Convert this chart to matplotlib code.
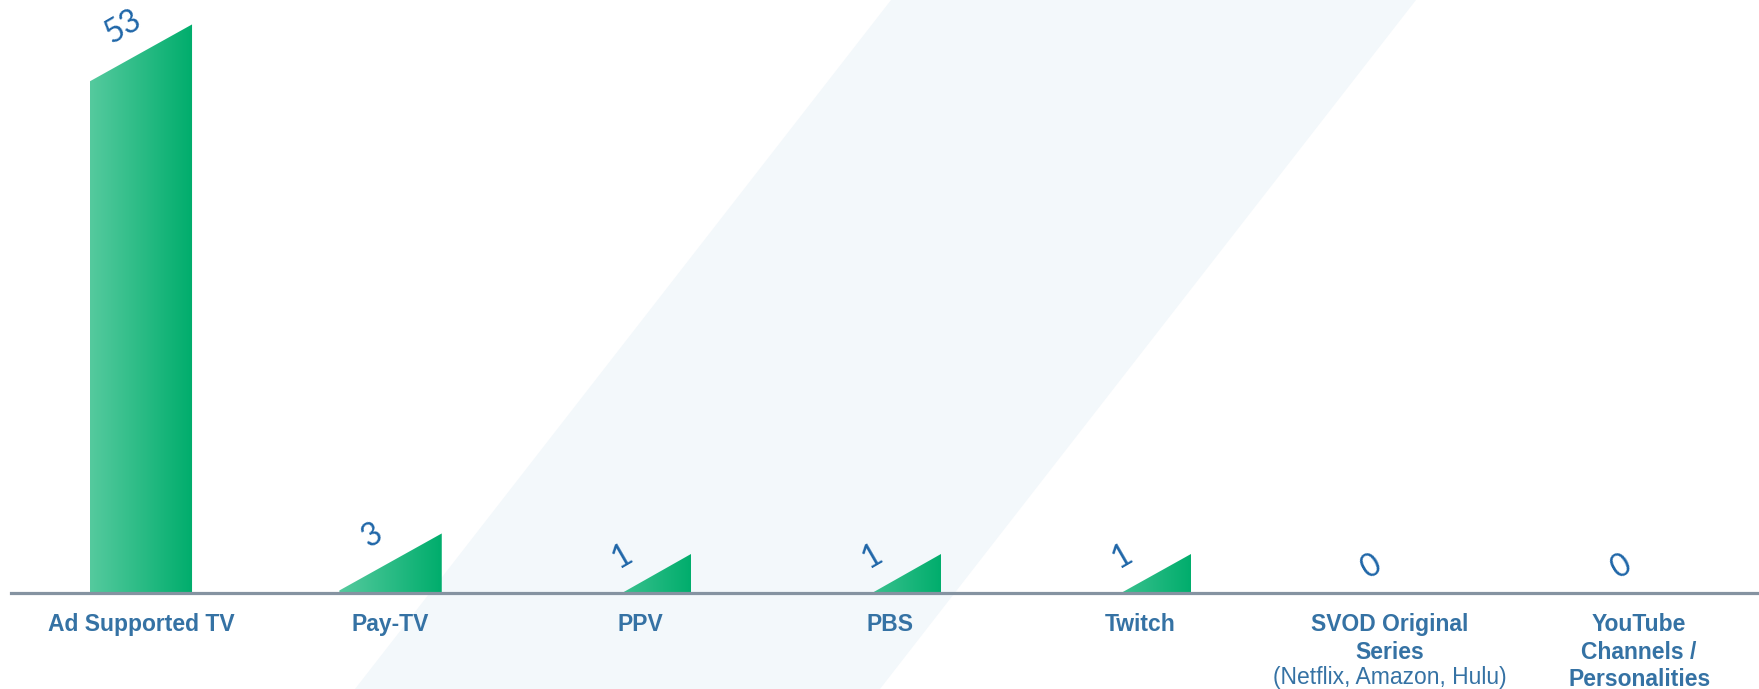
import matplotlib.pyplot as plt
import numpy as np
from matplotlib.patches import Polygon
from matplotlib.colors import LinearSegmentedColormap

# categories and counts
categories = ['Ad Supported TV', 'Pay-TV', 'PPV', 'PBS', 'Twitch',
              'SVOD Original\nSeries', 'YouTube\nChannels /\nPersonalities']
counts = [53, 3, 1, 1, 1, 0, 0]
sub_notes = ['', '', '', '', '', '(Netflix, Amazon, Hulu)', '']

label_color = '#3572a4'
value_color = '#1f66a8'
green = LinearSegmentedColormap.from_list('g', ['#55ca9e', '#00ad6c'])

W, H = 1759, 689
fig = plt.figure(figsize=(W / 100, H / 100), dpi=100)

# light diagonal band in the background
band = Polygon([(891 / W, 1), (1416 / W, 1), (880 / W, 0), (355 / W, 0)],
               closed=True, transform=fig.transFigure, facecolor='#f3f8fb',
               edgecolor='none', zorder=-1)
fig.patches.append(band)

ax = fig.add_axes([11 / W, 96.5 / H, 1 - 11 / W, 592.5 / H])
ax.patch.set_alpha(0)

x = np.arange(len(categories))
bar_w = 0.41
slant = 2.8  # half of the rise of the slanted top, in data units

grad = np.linspace(0, 1, 256).reshape(1, -1)
for xi, v in zip(x, counts):
    if v <= 0:
        continue
    x0, x1 = xi - bar_w / 2, xi + bar_w / 2
    top_r, top_l = v + slant, v - slant
    if top_l >= 0:
        verts = [(x0, 0), (x1, 0), (x1, top_r), (x0, top_l)]
    else:
        xc = x0 + bar_w * (slant - v) / (2 * slant)
        verts = [(xc, 0), (x1, 0), (x1, top_r)]
    poly = Polygon(verts, closed=True, facecolor='none', edgecolor='none')
    ax.add_patch(poly)
    im = ax.imshow(grad, cmap=green, aspect='auto', extent=[x0, x1, 0, top_r],
                   zorder=2)
    im.set_clip_path(poly)

for xi, v in zip(x, counts):
    ax.annotate(str(v), (xi, v), xytext=(-18, 26), textcoords='offset pixels',
                ha='center', va='center', rotation=30, fontsize=23,
                family='Lato', color=value_color)

ax.set_xlim(-0.52, 6.48)
ax.set_ylim(0, 58.2)

for s in ['top', 'left', 'right']:
    ax.spines[s].set_visible(False)
ax.spines['bottom'].set_color('#8593a1')
ax.spines['bottom'].set_linewidth(2.3)
ax.spines['bottom'].set_zorder(3)
ax.set_yticks([])
ax.set_xticks(x)
ax.set_xticklabels(categories, fontsize=16.5, fontweight='bold',
                   family='Liberation Sans', color=label_color,
                   linespacing=1.25)
ax.tick_params(axis='x', length=0, pad=15)

for xi, note in zip(x, sub_notes):
    if note:
        ax.annotate(note, (xi, 0), xytext=(0, -85), textcoords='offset pixels',
                    ha='center', va='center', fontsize=16.5,
                    family='Liberation Sans', color=label_color,
                    annotation_clip=False)

fig.savefig('out.png', dpi=100)
